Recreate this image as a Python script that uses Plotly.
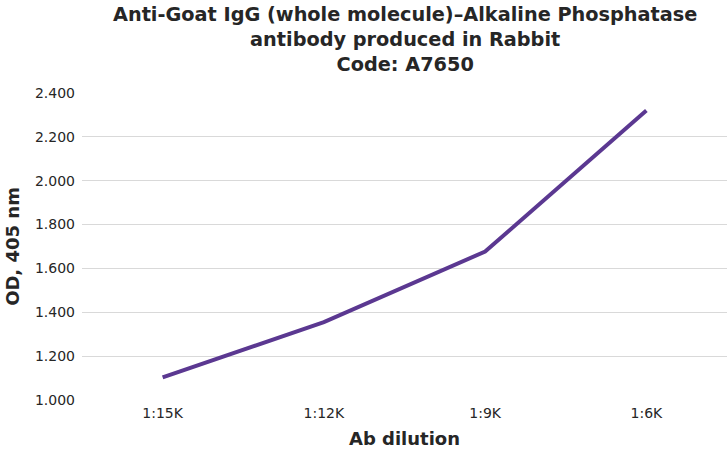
import plotly.graph_objects as go

dilutions = ["1:15K", "1:12K", "1:9K", "1:6K"]
od_values = [1.103, 1.355, 1.677, 2.320]

title_text = ("<b>Anti-Goat IgG (whole molecule)–Alkaline Phosphatase<br>"
              "antibody produced in Rabbit<br>Code: A7650</b>")

fig = go.Figure()
fig.add_trace(go.Scatter(
    x=dilutions, y=od_values, mode="lines",
    line=dict(color="#5b3891", width=4),
    showlegend=False,
))

font_family = "DejaVu Sans"
txt = "#262626"
fig.update_layout(
    width=728, height=450,
    margin=dict(l=82, r=1, t=93, b=50),
    paper_bgcolor="white", plot_bgcolor="white",
    font=dict(family=font_family, color=txt, size=14),
    annotations=[dict(
        text=title_text, xref="paper", yref="paper", x=0.5, y=1.0,
        xanchor="center", yanchor="top", yshift=92, showarrow=False,
        font=dict(family=font_family, size=19.3, color=txt),
    )],
)
fig.update_xaxes(
    type="category", range=[-0.5, 3.5],
    showgrid=False, showline=False, zeroline=False, ticks="",
    ticklabelstandoff=3,
    tickfont=dict(size=14, color=txt),
    title=dict(text="<b>Ab dilution</b>", font=dict(size=18, color=txt), standoff=12),
)
fig.update_yaxes(
    range=[1.0, 2.4], dtick=0.2, tick0=1.0, tickformat=".3f",
    showgrid=True, gridcolor="#d9d9d9", gridwidth=1,
    zeroline=False, showline=False, ticks="", ticklabelstandoff=6,
    tickfont=dict(size=14, color=txt),
    title=dict(text="<b>OD, 405 nm</b>", font=dict(size=18, color=txt), standoff=10),
)

fig.write_html("out.html", config={"displayModeBar": False},
               post_script="document.body.style.margin='0';")
